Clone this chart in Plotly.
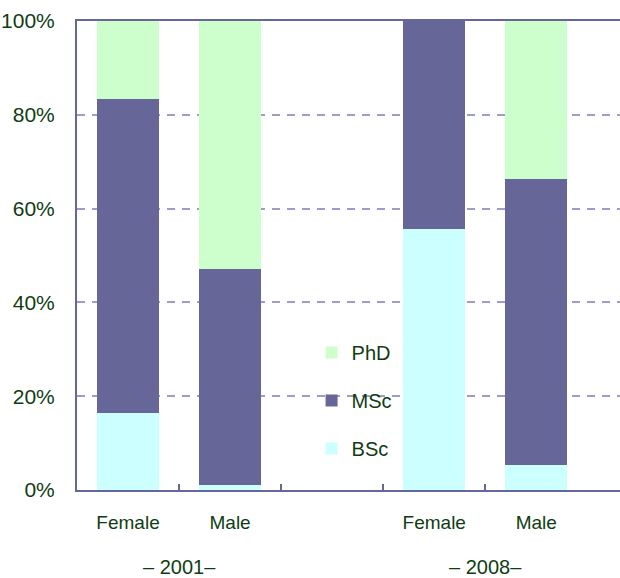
import plotly.graph_objects as go

x_pos = [0, 1, 3, 4]
tick_labels = ["Female", "Male", "Female", "Male"]
group_labels = ["– 2001–", "– 2008–"]
group_pos = [0.5, 3.5]

bsc = [16.5, 1.0, 55.7, 5.3]
msc = [66.9, 46.1, 44.3, 61.0]
phd = [16.6, 52.9, 0.0, 33.7]

text_color = "#0f3d12"
font_family = "Liberation Sans, Arial, sans-serif"

fig = go.Figure()
series = [("BSc", bsc, "#CCFFFF", 3), ("MSc", msc, "#666699", 2), ("PhD", phd, "#CCFFCC", 1)]
for name, vals, col, rank in series:
    fig.add_trace(go.Bar(x=x_pos, y=vals, name=name, marker=dict(color=col, line=dict(width=0)),
                         width=0.61, legendgroup=name, legendrank=rank))

for lab, gx in zip(group_labels, group_pos):
    fig.add_annotation(x=gx, xref="x", y=-0.164, yref="paper", text=lab, showarrow=False,
                       yanchor="middle", xanchor="center",
                       font=dict(size=20, color=text_color, family=font_family))

fig.update_layout(
    barmode="stack",
    width=620, height=578,
    margin=dict(l=77, r=0, t=21, b=88, autoexpand=False),
    plot_bgcolor="white", paper_bgcolor="white",
    font=dict(family=font_family, color=text_color, size=19),
    showlegend=True,
    legend=dict(x=0.432, y=0.335, xanchor="left", yanchor="top", traceorder="grouped",
                tracegroupgap=19, font=dict(size=20, color=text_color),
                bgcolor="rgba(0,0,0,0)"),
    xaxis=dict(range=[-0.5, 4.82], tickvals=x_pos, ticktext=tick_labels, ticks="",
               showgrid=False, zeroline=False, showline=True, linecolor="#666699", linewidth=2,
               mirror=True, ticklabelstandoff=14, automargin=False,
               tickfont=dict(size=19, color=text_color),
               minor=dict(tickvals=[0.5, 1.5, 2.5, 3.5], ticks="inside", ticklen=6,
                          tickcolor="#666699", tickwidth=2, showgrid=False)),
    yaxis=dict(range=[0, 100], tickvals=[0, 20, 40, 60, 80, 100],
               ticktext=["0%", "20%", "40%", "60%", "80%", "100%"],
               showgrid=True, gridcolor="#9d9dcc", gridwidth=1.5, griddash="8px,7px",
               zeroline=False, showline=True, linecolor="#666699", linewidth=2,
               ticks="", ticklabelstandoff=16, automargin=False,
               tickfont=dict(size=21, color=text_color)),
)

fig.write_html("out.html", config={"displayModeBar": False},
               post_script="document.body.style.margin='0';")
